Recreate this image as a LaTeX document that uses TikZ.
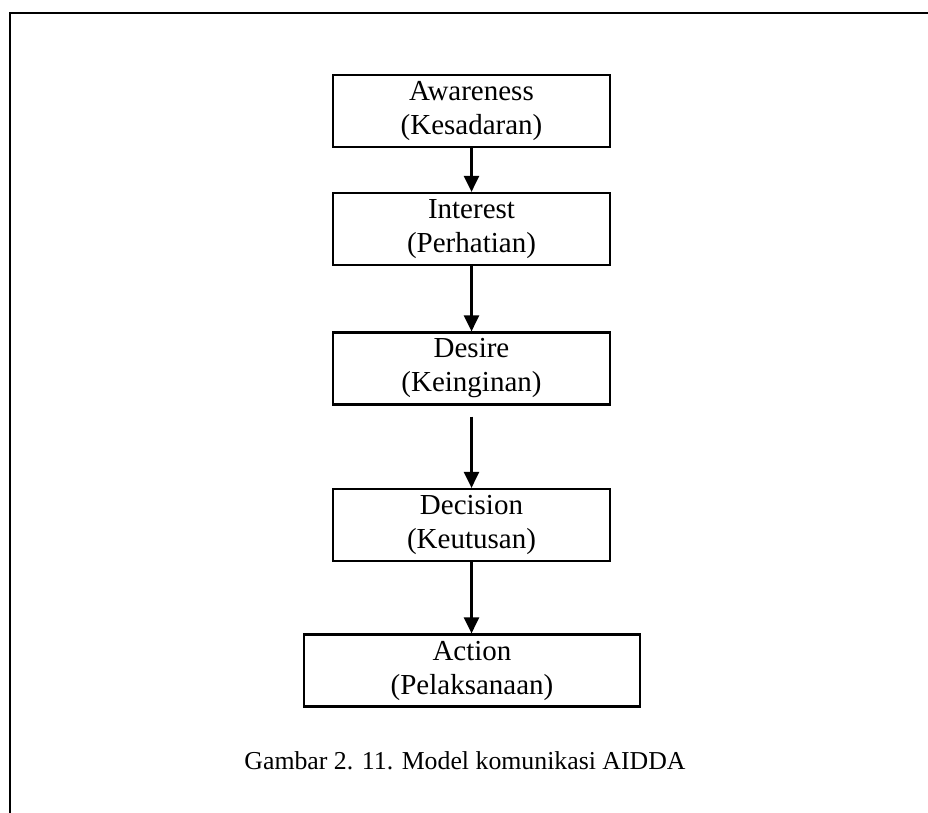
\documentclass[tikz,border=0pt]{standalone}
\usepackage{fontspec}
\setmainfont{Liberation Serif}
\usetikzlibrary{arrows.meta}
\begin{document}
\begin{tikzpicture}[x=1pt,y=-1pt,
  stage/.style={draw, line width=2.2pt, inner sep=0pt, minimum width=277pt,
    minimum height=72pt, align=center, font=\fontsize{29}{34}\selectfont},
  flow/.style={line width=2.6pt, -{Triangle[width=15pt,length=16pt]}}]
\useasboundingbox (0,0) rectangle (928,812);
% frame around the figure
\draw[line width=2.6pt] (10,814) -- (10,13) -- (930,13);
% stages
\node[stage] (aw) at (471.5,111) {Awareness\\(Kesadaran)};
\node[stage] (in) at (471.5,229) {Interest\\(Perhatian)};
\node[stage] (de) at (471.5,368.5) {Desire\\(Keinginan)};
\node[stage] (dc) at (471.5,525) {Decision\\(Keutusan)};
\node[stage, minimum width=336pt] (ac) at (472,670.5) {Action\\(Pelaksanaan)};
\coordinate (deout) at ([yshift=-11pt]de.south);
% connectors
\draw[flow] (aw) -- (in);
\draw[flow] (in) -- (de);
\draw[flow] (deout) -- (dc.north);
\draw[flow] (dc.south) -- (dc.south |- ac.north);
% caption
\node[font=\fontsize{25.8}{30}\selectfont] (cap) at (465,761) {Gambar 2. 11. Model komunikasi AIDDA};
\end{tikzpicture}
\end{document}
